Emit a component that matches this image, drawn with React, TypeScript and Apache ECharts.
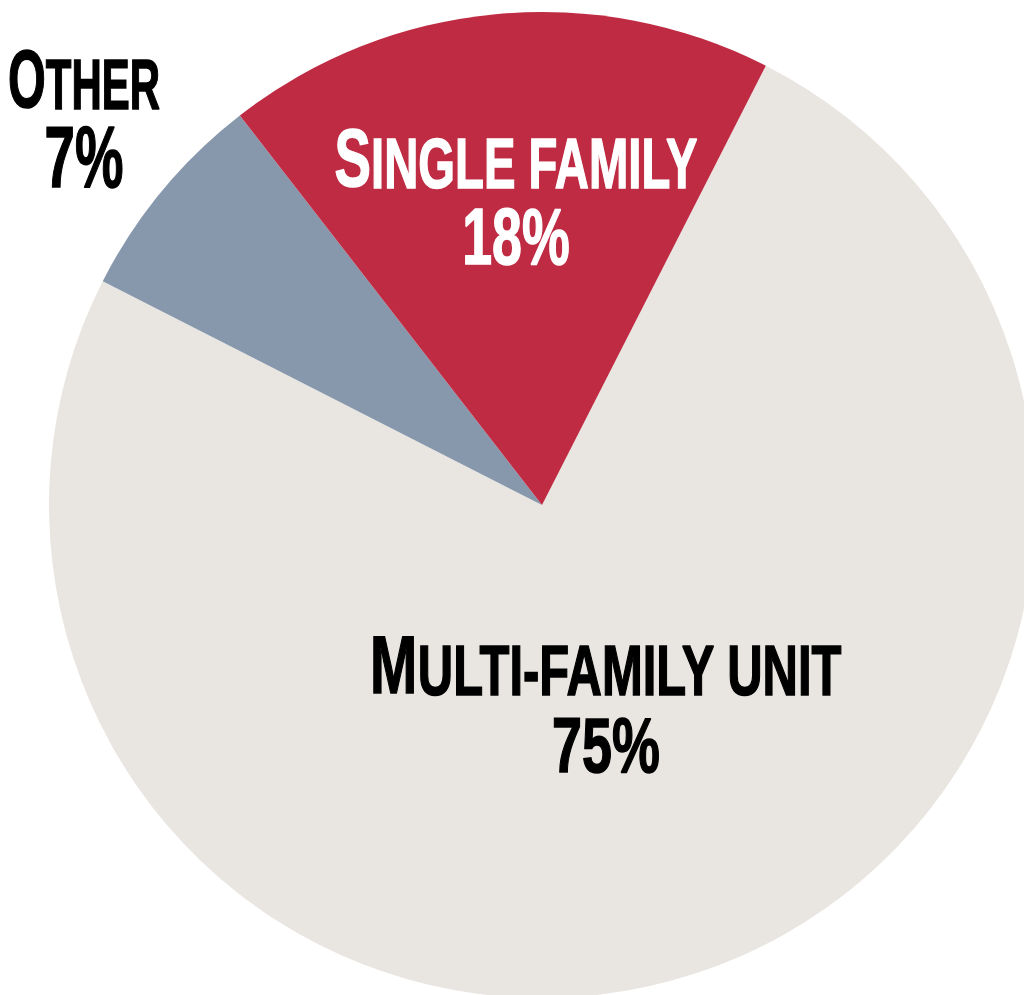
import React, { useEffect, useRef } from "react";
import * as echarts from "echarts";

const categories = ["Multi-family unit", "Other", "Single family"];
const values = [75, 7, 18];
const sliceColors = ["#E9E6E1", "#8798AD", "#BF2B43"];

const labelPos: Record<string, { x: number; y1: number; y2: number; color: string; sx: number; sx2: number; pf: number }> = {
  "Multi-family unit": { x: 606, y1: 665, y2: 745, color: "#000000", sx: 0.7, sx2: 0.7, pf: 77 },
  "Other": { x: 84, y1: 79, y2: 157, color: "#000000", sx: 0.6, sx2: 0.62, pf: 88 },
  "Single family": { x: 516, y1: 158, y2: 237, color: "#FFFFFF", sx: 0.675, sx2: 0.68, pf: 79 },
};

const FONT = "'Liberation Sans', Arial, sans-serif";

export default function App() {
  const ref = useRef<HTMLDivElement>(null);
  useEffect(() => {
    document.body.style.margin = "0";
    document.body.style.background = "#ffffff";
    if (!ref.current) return;
    const chart = echarts.init(ref.current, null, { renderer: "svg" });
    const graphics: any[] = [];
    categories.forEach((c, i) => {
      const p = labelPos[c];
      const first = c.charAt(0).toUpperCase();
      const rest = c.slice(1).toUpperCase();
      const common = { fontWeight: "bold", fontFamily: FONT, fill: p.color, stroke: p.color, lineWidth: 1.5, verticalAlign: "bottom" };
      graphics.push({
        type: "text",
        x: p.x,
        y: p.y1,
        z: 100,
        scaleX: p.sx,
        style: {
          text: `{b|${first}}{s|${rest}}`,
          align: "center",
          verticalAlign: "middle",
          fill: p.color,
          rich: {
            b: { ...common, fontSize: 81 },
            s: { ...common, fontSize: 70 },
          },
        },
      });
      graphics.push({
        type: "text",
        x: p.x,
        y: p.y2,
        z: 100,
        scaleX: p.sx2,
        style: {
          text: `${values[i]}%`,
          align: "center",
          verticalAlign: "middle",
          fontSize: p.pf,
          fontWeight: "bold",
          fontFamily: FONT,
          fill: p.color,
          stroke: p.color,
          lineWidth: 1.5,
        },
      });
    });
    chart.setOption({
      animation: false,
      backgroundColor: "#ffffff",
      series: [
        {
          type: "pie",
          center: [542, 505],
          radius: 493,
          startAngle: 63,
          clockwise: true,
          label: { show: false },
          labelLine: { show: false },
          emphasis: { disabled: true },
          itemStyle: { borderWidth: 0 },
          data: categories.map((c, i) => ({
            name: c,
            value: values[i],
            itemStyle: { color: sliceColors[i] },
          })),
        },
      ],
      graphic: graphics,
    });
    return () => chart.dispose();
  }, []);
  return <div ref={ref} style={{ width: 1024, height: 995 }} />;
}
